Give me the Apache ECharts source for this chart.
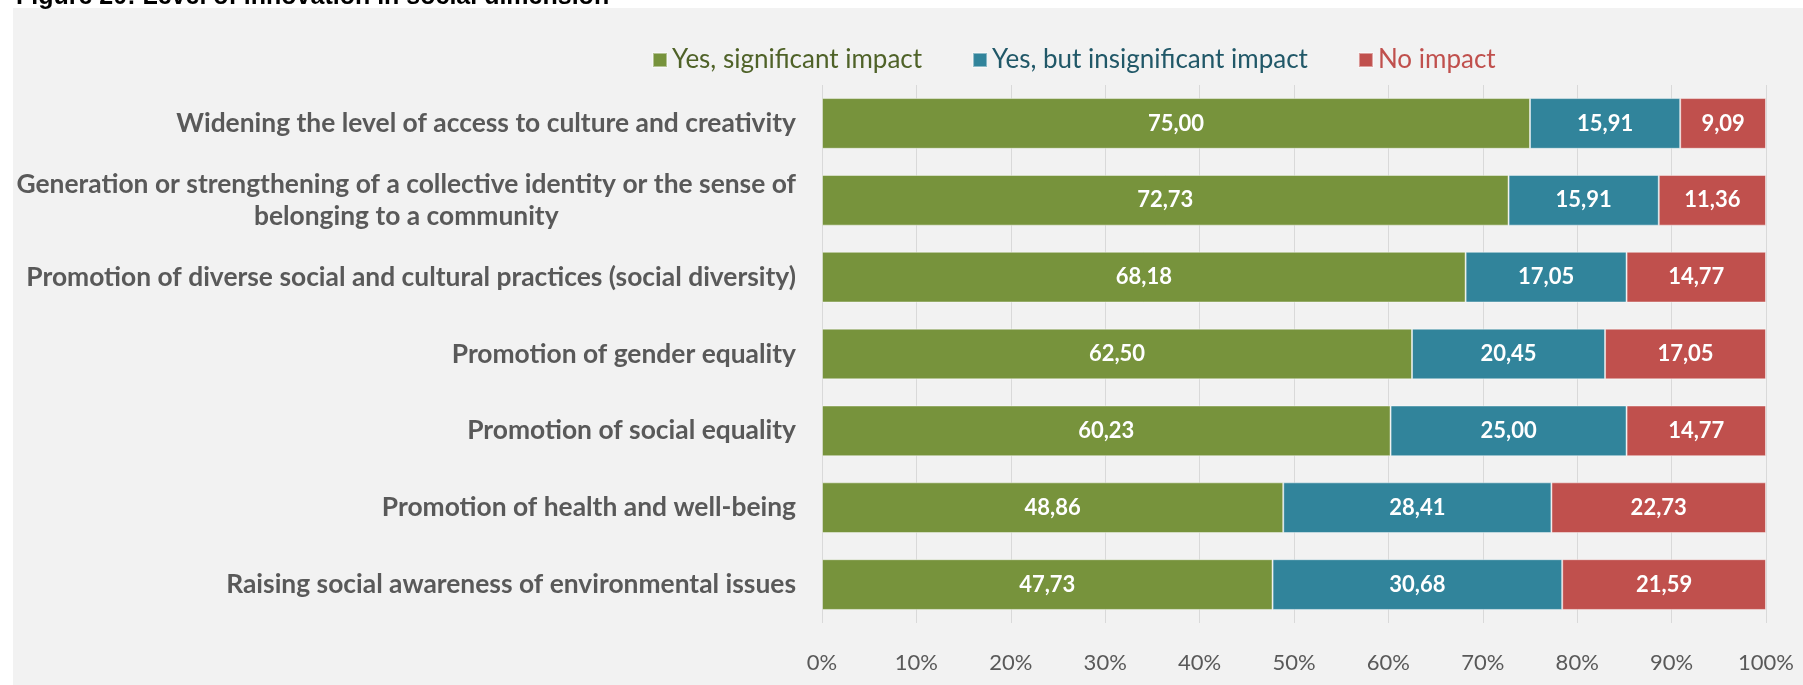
<!DOCTYPE html>
<html>
<head>
<meta charset="utf-8">
<script src="https://cdn.jsdelivr.net/npm/echarts@6/dist/echarts.min.js"></script>
<style>
  html, body { margin: 0; padding: 0; background: #ffffff; }
  #chart { width: 1803px; height: 685px; }
</style>
</head>
<body>
<div id="chart"></div>
<script>
// Survey categories (top to bottom)
const categories = [
  'Widening the level of access to culture and creativity',
  'Generation or strengthening of a collective identity or the sense of\nbelonging to a community',
  'Promotion of diverse social and cultural practices (social diversity)',
  'Promotion of gender equality',
  'Promotion of social equality',
  'Promotion of health and well-being',
  'Raising social awareness of environmental issues'
];

// Share of respondents (%) per answer
const significant   = [75.00, 72.73, 68.18, 62.50, 60.23, 48.86, 47.73];
const insignificant = [15.91, 15.91, 17.05, 20.45, 25.00, 28.41, 30.68];
const noImpact      = [9.09, 11.36, 14.77, 17.05, 14.77, 22.73, 21.59];

const seriesNames = ['Yes, significant impact', 'Yes, but insignificant impact', 'No impact'];
const titleText = 'Figure 20: Level of innovation in social dimension';

const FONT = 'Lato, "Open Sans", sans-serif';
const barColors = ['#77933C', '#31849B', '#C0504D'];
const legendTextColors = ['#4F6228', '#215868', '#C0504D'];

const fmt = v => v.toFixed(2).replace('.', ',');

function barSeries(name, values, color) {
  return {
    name: name,
    type: 'bar',
    stack: 'total',
    barCategoryGap: '34%',
    data: values,
    itemStyle: { color: color, borderColor: 'rgba(255,255,255,0.45)', borderWidth: 1 },
    label: {
      show: true,
      position: 'inside',
      formatter: p => fmt(p.value),
      color: '#ffffff',
      fontFamily: FONT,
      fontWeight: 'bold',
      fontSize: 22
    },
    emphasis: { disabled: true }
  };
}

const chart = echarts.init(document.getElementById('chart'), null, { renderer: 'canvas' });

chart.setOption({
  animation: false,
  backgroundColor: '#ffffff',
  graphic: [
    {
      type: 'rect',
      z: -10,
      silent: true,
      shape: { x: 13, y: 8, width: 1803 - 13, height: 685 - 8 },
      style: { fill: '#f2f2f2' }
    },
    {
      type: 'text',
      z: 10,
      silent: true,
      left: 16,
      top: -15,
      style: {
        text: titleText,
        font: 'bold 25px "Liberation Sans", Arial, sans-serif',
        fill: '#000000'
      }
    }
  ],
  legend: {
    left: 647,
    top: 42,
    itemWidth: 14,
    itemHeight: 14,
    itemGap: 50,
    icon: 'rect',
    selectedMode: false,
    textStyle: { fontFamily: FONT, fontSize: 26 },
    data: seriesNames.map((n, i) => ({ name: n, textStyle: { color: legendTextColors[i] } }))
  },
  grid: {
    left: 822,
    right: 37,
    top: 85,
    bottom: 62,
    containLabel: false
  },
  xAxis: {
    type: 'value',
    min: 0,
    max: 100,
    interval: 10,
    axisLine: { show: false },
    axisTick: { show: false },
    splitLine: { show: true, lineStyle: { color: '#d9d9d9', width: 1 } },
    axisLabel: {
      formatter: '{value}%',
      color: '#595959',
      fontFamily: FONT,
      fontSize: 22,
      margin: 29
    }
  },
  yAxis: {
    type: 'category',
    inverse: true,
    data: categories,
    axisLine: { show: false },
    axisTick: { show: false },
    axisLabel: {
      margin: 26,
      align: 'right',
      formatter: v => v.split('\n').map(s => '{c|' + s + '}').join('\n'),
      rich: {
        c: {
          align: 'center',
          color: '#595959',
          fontFamily: FONT,
          fontWeight: 'bold',
          fontSize: 26.4,
          lineHeight: 32
        }
      }
    }
  },
  series: [
    barSeries(seriesNames[0], significant, barColors[0]),
    barSeries(seriesNames[1], insignificant, barColors[1]),
    barSeries(seriesNames[2], noImpact, barColors[2])
  ]
});
</script>
</body>
</html>
